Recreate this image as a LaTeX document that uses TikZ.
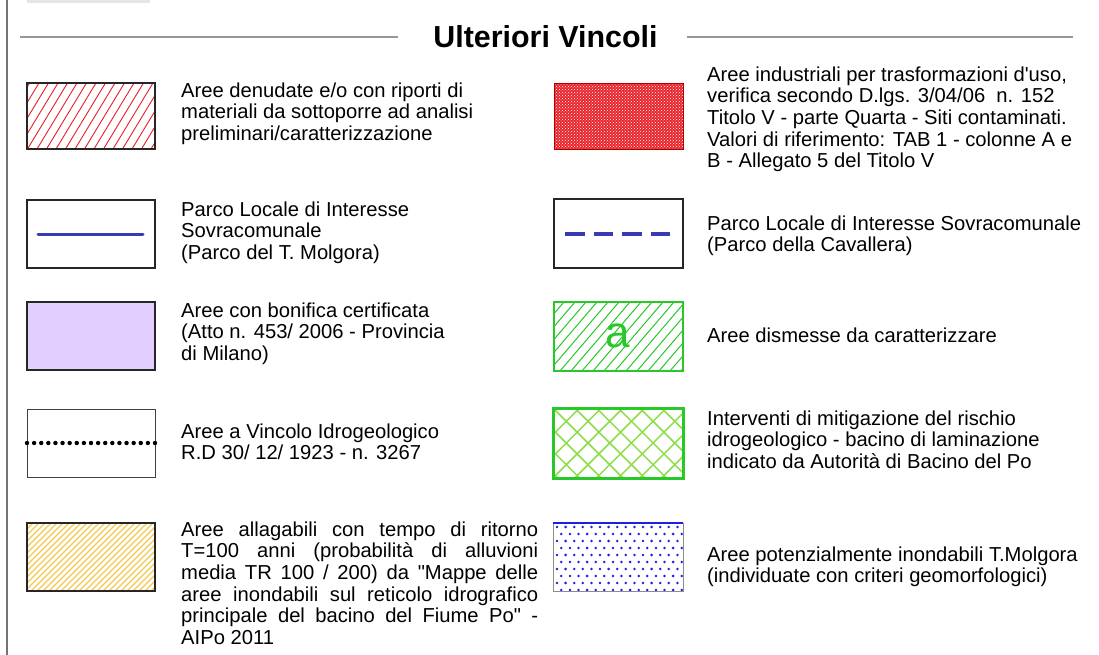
\documentclass[tikz,border=0pt]{standalone}
\usepackage{fontspec}
\setmainfont{Liberation Sans}
\usetikzlibrary{patterns}
\definecolor{hatchred}{RGB}{235,30,40}
\definecolor{dotred}{RGB}{232,36,44}
\definecolor{lineblue}{RGB}{58,58,178}
\definecolor{lilac}{RGB}{226,206,255}
\definecolor{grn}{RGB}{40,200,40}
\definecolor{ltgrn}{RGB}{140,222,70}
\definecolor{goldy}{RGB}{245,200,80}
\definecolor{dotblue}{RGB}{30,30,230}
\definecolor{rule}{RGB}{150,150,150}
\begin{document}
\begin{tikzpicture}[x=1pt,y=-1pt,
  txt/.style={anchor=north west, inner sep=0pt, align=left, font=\fontsize{20.2}{21.6}\selectfont},
  ttl/.style={anchor=base, inner sep=0pt, font=\fontsize{30.4}{34}\selectfont\bfseries},
  frame/.style={draw=black!85, line width=1.4pt},
  hdr/.style={draw=rule, line width=1.2pt}]
\useasboundingbox (0,0) rectangle (1099,655);
\fill[white] (0,0) rectangle (1099,655);
% left border and faint top box
\draw[black!55, line width=2pt] (7,0) -- (7,655);
\fill[black!10] (27,0) rectangle (150,3);
% header
\node[ttl] (title) at (545.5,47.5) {Ulteriori Vincoli};
\coordinate (hl1) at (20,37); \coordinate (hl2) at (398,37);
\coordinate (hr1) at (687,37); \coordinate (hr2) at (1073,37);
\draw[hdr] (hl1) -- (hl2);
\draw[hdr] (hr1) -- (hr2);

% ---------- left column swatches ----------
% 1 red hatch
\begin{scope}
\clip (27,83) rectangle (155,149);
\foreach \i in {0,...,19} \draw[hatchred, line width=0.9pt] ({\i*9.5-20},149) -- ++(40,-66);
\end{scope}
\draw[frame] (27,83) rectangle (155,149);
% 2 parco line
\draw[frame] (27,200) rectangle (155,268);
\draw[lineblue, line width=3pt, line cap=round] (38,234) -- (143,234);
% 3 lilac
\draw[frame, fill=lilac] (27,302) rectangle (155,370);
% 4 dotted
\draw[draw=black!75, line width=1pt] (27,409) rectangle (155,477);
\foreach \i in {0,...,18} \fill[black] ({27+\i*128/18},443) circle (2.2pt);
% 5 yellow hatch
\begin{scope}
\clip (27,523) rectangle (155,591);
\foreach \i in {0,...,33} \draw[goldy, line width=1.3pt] ({\i*6-41},591) -- ++(68,-68);
\end{scope}
\draw[frame] (27,523) rectangle (155,591);

% ---------- right column swatches ----------
% 1 red dotted
\fill[dotred] (554,83) rectangle (683,149);
\fill[pattern=crosshatch dots, pattern color=white] (554,83) rectangle (683,149);
\draw[red!70!black, line width=0.8pt] (554,83) rectangle (683,149);
% 2 dashed
\draw[frame] (554,199) rectangle (683,268);
\draw[lineblue, line width=3.5pt, dash pattern=on 19.5pt off 9pt] (565,234) -- (670,234);
% 3 green hatch with a
\begin{scope}
\clip (554,302) rectangle (683,371);
\foreach \i in {0,...,18} \draw[grn, line width=1pt] ({\i*11+494},371) -- ++(59,-69);
\end{scope}
\draw[grn, line width=2.5pt] (554,302) rectangle (683,371);
\node[inner sep=0pt, text=grn, font=\fontsize{44}{46}\selectfont] (aa) at (618,336) {a};
% 4 crosshatch
\begin{scope}
\clip (553,408) rectangle (683,478);
\foreach \i in {-4,...,7} {
  \draw[ltgrn, line width=1.5pt] ({553+\i*21.7},478) -- ++(70,-70);
  \draw[ltgrn, line width=1.5pt] ({553+\i*21.7},408) -- ++(70,70);
}
\end{scope}
\draw[grn, line width=3pt] (553,408) rectangle (683,478);
% 5 blue dots
\begin{scope}
\clip (553,523) rectangle (683,591);
\foreach \r in {0,...,9} \foreach \c in {0,...,15}
  \fill[dotblue] ({557+\c*8.6+mod(\r,2)*4.3},{527+\r*7}) circle (1.4pt);
\end{scope}
\draw[black!45, line width=0.8pt] (553,523) rectangle (683,591);
\draw[dotblue, line width=1.6pt] (553,523) -- (683,523);

% ---------- texts ----------
\node[txt] (t1) at (181,81.9) {\strut Aree denudate e/o con riporti di\\materiali da sottoporre ad analisi\\preliminari/caratterizzazione};
\node[txt] (t2) at (181,200.9) {\strut Parco Locale di Interesse\\Sovracomunale\\(Parco del T. Molgora)};
\node[txt] (t3) at (181,301.9) {\strut Aree con bonifica certificata\\(Atto n. 453/ 2006 - Provincia\\di Milano)};
\node[txt] (t4) at (181,422.9) {\strut Aree a Vincolo Idrogeologico\\R.D 30/ 12/ 1923 - n. 3267};
\node[txt] (t5) at (181,521) {\strut\makebox[357pt][s]{Aree allagabili con tempo di ritorno}\\
\makebox[357pt][s]{T=100 anni (probabilità di alluvioni}\\
\makebox[357pt][s]{media TR 100 / 200) da \textquotedbl Mappe delle}\\
\makebox[357pt][s]{aree inondabili sul reticolo idrografico}\\
\makebox[357pt][s]{principale del bacino del Fiume Po\textquotedbl\ -}\\
AIPo 2011};

\node[txt] (r1) at (707,65.9) {\strut Aree industriali per trasformazioni d\textquotesingle uso,\\verifica secondo D.lgs. 3/04/06\ \ n. 152\\Titolo V - parte Quarta - Siti contaminati.\\Valori di riferimento: TAB 1 - colonne A e\\B - Allegato 5 del Titolo V};
\node[txt] (r2) at (707,214.9) {\strut Parco Locale di Interesse Sovracomunale\\(Parco della Cavallera)};
\node[txt] (r3) at (707,326.9) {\strut Aree dismesse da caratterizzare};
\node[txt] (r4) at (707,409.9) {\strut Interventi di mitigazione del rischio\\idrogeologico - bacino di laminazione\\indicato da Autorità di Bacino del Po};
\node[txt] (r5) at (707,545.9) {\strut Aree potenzialmente inondabili T.Molgora\\(individuate con criteri geomorfologici)};
\end{tikzpicture}
\end{document}
